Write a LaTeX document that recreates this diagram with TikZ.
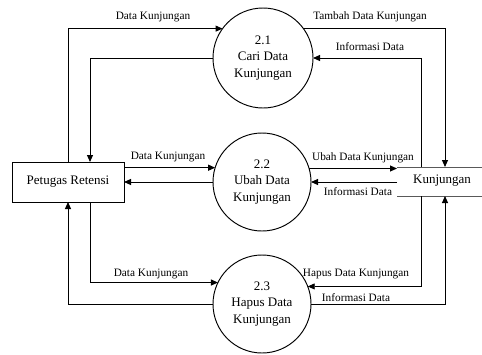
\documentclass[tikz,border=0pt]{standalone}
\usepackage{fontspec}
\setmainfont{Liberation Serif}
\usetikzlibrary{arrows.meta,calc}
\begin{document}
\begin{tikzpicture}[x=1pt,y=-1pt,
  flow/.style={line width=0.95pt,-{Triangle[length=7pt,width=6pt]}},
  proc/.style={circle,draw,line width=0.95pt,inner sep=0pt,outer sep=0pt,
    align=center,font=\fontsize{13}{16.5}\selectfont},
  entity/.style={draw,line width=0.95pt,minimum width=112pt,minimum height=40pt,
    inner sep=0pt,outer sep=0pt,font=\fontsize{13}{16}\selectfont},
  lbl/.style={font=\fontsize{11.3}{13}\selectfont,inner sep=0pt},
  storeline/.style={draw=black!65,line width=0.9pt}]
\useasboundingbox (0,0) rectangle (482,354);

% external entity
\node[entity] (pr) at (68,182) {Petugas Retensi};

% processes
\node[proc,minimum size=100pt] (c1) at (263,58) {2.1\\Cari Data\\Kunjungan};
\node[proc,minimum size=98pt] (c2) at (262,182) {2.2\\Ubah Data\\Kunjungan};
\node[proc,minimum size=98pt] (c3) at (262,304) {2.3\\Hapus Data\\Kunjungan};

% data store
\node[font=\fontsize{13}{16}\selectfont] (store) at (442,181) {Kunjungan};
\coordinate (stl) at (397,167);
\coordinate (str) at (482,167);
\coordinate (sbl) at (397,196);
\coordinate (sbr) at (482,196);
\draw[storeline] (stl) -- (str);
\draw[storeline] (sbl) -- (sbr);
\coordinate (sl) at (397,182);
\coordinate (stA) at (445,167);
\coordinate (stB) at (421,167);
\coordinate (sbA) at (445,196);
\coordinate (sbB) at (421,196);

% flows of 2.1
\draw[flow] (pr.north) |- (c1.144.5);
\draw[flow] (c1.west) -| ([xshift=22pt]pr.north);
\draw[flow] (c1.36.9) -| (stA);
\draw[flow] (stB) |- (c1.east);

% flows of 2.2
\draw[flow] (pr.east |- c2.163.4) -- (c2.163.4);
\draw[flow] (c2.west) -- (pr.east);
\draw[flow] (c2.16.6) -- (c2.16.6 -| sl);
\draw[flow] (sl) -- (c2.east);

% flows of 2.3
\draw[flow] ([xshift=22pt]pr.south) |- (c3.154.6);
\draw[flow] (c3.west) -| (pr.south);
\draw[flow] (sbB) |- (c3.21.6);
\draw[flow] (c3.east) -| (sbA);

% flow labels
\node[lbl] (l1) at (153,17) {Data Kunjungan};
\node[lbl] (l2) at (370,17) {Tambah Data Kunjungan};
\node[lbl] (l3) at (370,47) {Informasi Data};
\node[lbl] (l4) at (168,157) {Data Kunjungan};
\node[lbl] (l5) at (363,158) {Ubah Data Kunjungan};
\node[lbl] (l6) at (358,192) {Informasi Data};
\node[lbl] (l7) at (356,274) {Hapus Data Kunjungan};
\node[lbl] (l8) at (356,298) {Informasi Data};
\node[lbl] (l9) at (151,274) {Data Kunjungan};
\end{tikzpicture}
\end{document}
